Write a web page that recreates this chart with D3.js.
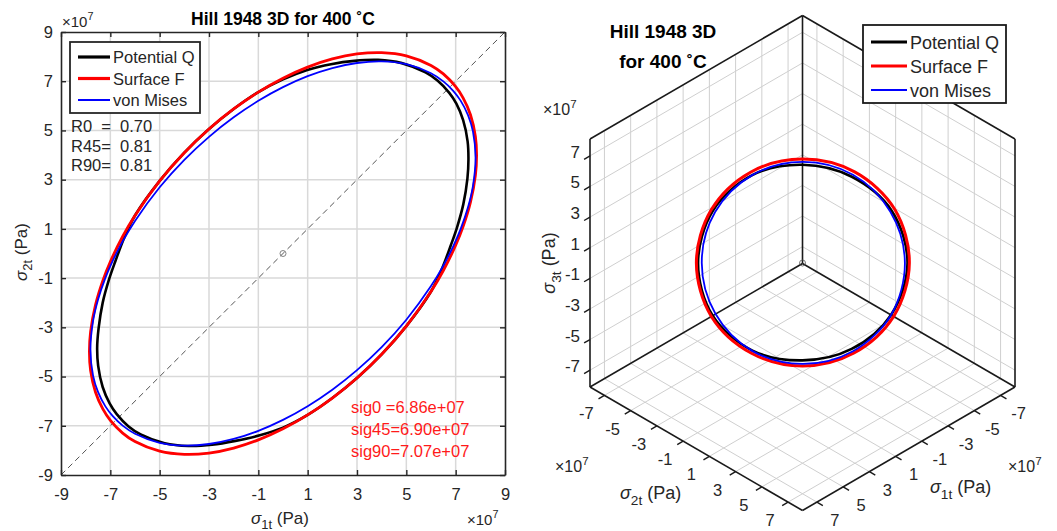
<!DOCTYPE html>
<html>
<head>
<meta charset="utf-8">
<script src="https://cdn.jsdelivr.net/npm/d3@7"></script>
<style>
  body { margin: 0; background: #fff; }
  svg { display: block; }
  text { font-family: "Liberation Sans", Arial, sans-serif; fill: #262626; }
</style>
</head>
<body>
<svg width="1057" height="531"></svg>
<script>
// ---- left panel data (values in 1e7 Pa), points read around each closed curve ----
const ticks2d = [-9, -7, -5, -3, -1, 1, 3, 5, 7, 9];
const grid2d = [-7, -5, -3, -1, 1, 3, 5, 7];

const potentialX = [-7.534, -7.493, -7.311, -7.028, -6.741, -6.261, -5.771, -4.799, -3.833, -2.875, -1.926, -0.976,
                    0, 1, 2, 3, 4, 5, 6, 6.42, 6.80, 7.053, 7.311, 7.476, 7.518, 7.484, 7.303, 7.028, 6.741, 6.261,
                    5.778, 4.815, 3.855, 2.896, 1.946, 0.984, 0, -1, -2, -3, -4, -5, -6, -6.42, -6.80, -7.053, -7.311, -7.476];
const potentialY = [-3.829, -4.564, -5.424, -6.089, -6.527, -7.027, -7.350, -7.709, -7.821, -7.771, -7.614, -7.396,
                    -7.074, -6.558, -5.873, -5.059, -4.097, -2.951, -1.544, -0.680, 0.326, 1.056, 2.006, 3.043, 3.820,
                    4.559, 5.418, 6.089, 6.527, 7.027, 7.358, 7.735, 7.866, 7.827, 7.692, 7.456, 7.074, 6.558, 5.873,
                    5.059, 4.097, 2.951, 1.544, 0.680, -0.326, -1.056, -2.006, -3.043];

const surfaceX = [-7.848, -7.8, -7.6, -7.3, -7, -6.5, -6, -5, -4, -3, -2, -1, 0, 1, 2, 3, 4, 5, 6, 6.5, 7, 7.3, 7.6, 7.8,
                  7.848, 7.8, 7.6, 7.3, 7, 6.5, 6, 5, 4, 3, 2, 1, 0, -1, -2, -3, -4, -5, -6, -6.5, -7, -7.3, -7.6, -7.8];
const surfaceY = [-3.988, -4.751, -5.638, -6.325, -6.778, -7.296, -7.641, -8.032, -8.162, -8.108, -7.905, -7.575,
                  -7.124, -6.558, -5.873, -5.059, -4.097, -2.951, -1.544, -0.690, 0.336, 1.093, 2.085, 3.175, 3.988,
                  4.751, 5.638, 6.325, 6.778, 7.296, 7.641, 8.032, 8.162, 8.108, 7.905, 7.575, 7.124, 6.558, 5.873,
                  5.059, 4.097, 2.951, 1.544, 0.690, -0.336, -1.093, -2.085, -3.175];

const misesX = [-7.806, -7.7, -7.5, -7.2, -6.9, -6.5, -6, -5, -4, -3, -2, -1, 0, 1, 2, 3, 4, 5, 6, 6.5, 6.9, 7.2, 7.5, 7.7,
                7.806, 7.7, 7.5, 7.2, 6.9, 6.5, 6, 5, 4, 3, 2, 1, 0, -1, -2, -3, -4, -5, -6, -6.5, -6.9, -7.2, -7.5, -7.7];
const misesY = [-3.903, -4.96, -5.624, -6.212, -6.611, -6.993, -7.324, -7.691, -7.805, -7.741, -7.535, -7.205,
                -6.76, -6.205, -5.535, -4.741, -3.805, -2.691, -1.324, -0.493, 0.289, 0.989, 1.876, 2.74, 3.903,
                4.96, 5.624, 6.212, 6.611, 6.993, 7.324, 7.691, 7.805, 7.741, 7.535, 7.205, 6.76, 6.205, 5.535,
                4.741, 3.805, 2.691, 1.324, 0.493, -0.289, -0.989, -1.876, -2.74];

const legendNames = ["Potential Q", "Surface F", "von Mises"];
const legendColors = ["#000000", "#ff0000", "#0000ff"];
const lineWidths = [2.6, 2.8, 1.8];

const rLabels = ["R0  =  0.70", "R45=  0.81", "R90=  0.81"];
const sigLabels = ["sig0 =6.86e+07", "sig45=6.90e+07", "sig90=7.07e+07"];

// ---- right panel data: radius (1e7 Pa) in the deviatoric plane, angle clockwise from the sigma3 axis ----
const piAngles = [0, 30, 60, 90, 120, 150, 180, 210, 240, 270, 300, 330];
const potentialR3 = [5.25, 5.32, 5.56, 5.66, 5.52, 5.30, 5.20, 5.40, 5.60, 5.63, 5.58, 5.42];
const surfaceR3 = [5.55, 5.62, 5.74, 5.76, 5.68, 5.55, 5.50, 5.55, 5.68, 5.72, 5.68, 5.60];
const misesR3 = [5.40, 5.44, 5.47, 5.52, 5.52, 5.44, 5.39, 5.42, 5.42, 5.43, 5.44, 5.42];
const ticks3d = [-7, -5, -3, -1, 1, 3, 5, 7];
const lim3 = 8.1;

const svg = d3.select("svg");
const ink = "#262626";

// ================= left panel =================
const x2 = d3.scaleLinear().domain([-9, 9]).range([61, 505]);
const y2 = d3.scaleLinear().domain([-9, 9]).range([475, 32]);
const left = svg.append("g");

left.selectAll(".vgrid").data(grid2d).join("line")
    .attr("x1", d => x2(d)).attr("x2", d => x2(d))
    .attr("y1", y2(-9)).attr("y2", y2(9))
    .attr("stroke", "#d9d9d9").attr("stroke-width", 1.5);
left.selectAll(".hgrid").data(grid2d).join("line")
    .attr("y1", d => y2(d)).attr("y2", d => y2(d))
    .attr("x1", x2(-9)).attr("x2", x2(9))
    .attr("stroke", "#d9d9d9").attr("stroke-width", 1.5);

left.append("line")
    .attr("x1", x2(-9)).attr("y1", y2(-9)).attr("x2", x2(9)).attr("y2", y2(9))
    .attr("stroke", "#555").attr("stroke-width", 1).attr("stroke-dasharray", "6,4");
left.append("circle").attr("cx", x2(0)).attr("cy", y2(0)).attr("r", 3)
    .attr("fill", "none").attr("stroke", "#666").attr("stroke-width", 0.8);

const curves2d = [[potentialX, potentialY], [surfaceX, surfaceY], [misesX, misesY]];
const line2 = d3.line().x(d => x2(d[0])).y(d => y2(d[1])).curve(d3.curveCatmullRomClosed.alpha(0.5));
curves2d.forEach(function(c, i) {
    const pts = c[0].map((v, j) => [v, c[1][j]]);
    left.append("path").attr("d", line2(pts))
        .attr("fill", "none").attr("stroke", legendColors[i]).attr("stroke-width", lineWidths[i]);
});

function styleAxis(g, size) {
    g.select(".domain").attr("stroke", ink).attr("stroke-width", 1.6);
    g.selectAll(".tick line").attr("stroke", ink).attr("stroke-width", 1.4);
    g.selectAll("text").attr("font-size", size).attr("font-family", "Liberation Sans, Arial, sans-serif").attr("fill", ink);
}
const fmt = d => String(d);
styleAxis(left.append("g").attr("transform", `translate(0,${y2(-9)})`)
    .call(d3.axisBottom(x2).tickValues(ticks2d).tickFormat(fmt).tickSize(-5).tickSizeOuter(0).tickPadding(13)), 16.5);
styleAxis(left.append("g").attr("transform", `translate(0,${y2(9)})`)
    .call(d3.axisTop(x2).tickValues(ticks2d).tickFormat("").tickSize(-5).tickSizeOuter(0)), 16.5);
styleAxis(left.append("g").attr("transform", `translate(${x2(-9)},0)`)
    .call(d3.axisLeft(y2).tickValues(ticks2d).tickFormat(fmt).tickSize(-5).tickSizeOuter(0).tickPadding(8)), 16.5);
styleAxis(left.append("g").attr("transform", `translate(${x2(9)},0)`)
    .call(d3.axisRight(y2).tickValues(ticks2d).tickFormat("").tickSize(-5).tickSizeOuter(0)), 16.5);

// title and exponent labels
left.append("text").attr("x", 283).attr("y", 25).attr("text-anchor", "middle")
    .attr("font-size", 17.5).attr("font-weight", "bold").style("fill", "#000")
    .text("Hill 1948 3D for 400 ˚C");

function expLabel(g, x, y, size) {
    const t = g.append("text").attr("x", x).attr("y", y).attr("font-size", size);
    t.append("tspan").text("×10");
    t.append("tspan").attr("font-size", size * 0.72).attr("dy", -size * 0.45).text("7");
}
expLabel(left, 62, 27, 15);
expLabel(left, 467, 525, 15);

function sigmaLabel(g, x, y, sub, size, rotate) {
    const t = g.append("text").attr("font-size", size);
    if (rotate) t.attr("transform", `translate(${x},${y}) rotate(-90)`).attr("text-anchor", "middle");
    else t.attr("x", x).attr("y", y);
    t.append("tspan").attr("font-style", "italic").text("σ");
    t.append("tspan").attr("font-size", size * 0.76).attr("dy", size * 0.32).text(sub);
    t.append("tspan").attr("dy", -size * 0.32).text(" (Pa)");
}
sigmaLabel(left, 251, 524, "1t", 17, false);
sigmaLabel(left, 27, 252, "2t", 17, true);

// legend
const leg = left.append("g");
leg.append("rect").attr("x", 70).attr("y", 42).attr("width", 130).attr("height", 71)
    .attr("fill", "#fff").attr("stroke", ink).attr("stroke-width", 1.8);
legendNames.forEach(function(n, i) {
    const yy = 57 + i * 21.5;
    leg.append("line").attr("x1", 78).attr("x2", 110).attr("y1", yy).attr("y2", yy)
        .attr("stroke", legendColors[i]).attr("stroke-width", i === 2 ? 2 : 3.2);
    leg.append("text").attr("x", 113).attr("y", yy + 6).attr("font-size", 16.5).text(n);
});

left.selectAll(".rtext").data(rLabels).join("text")
    .attr("x", 71).attr("y", (d, i) => 132 + i * 19.5)
    .attr("font-size", 16.5).style("white-space", "pre").text(d => d);
left.selectAll(".sigtext").data(sigLabels).join("text")
    .attr("x", 351).attr("y", (d, i) => 413 + i * 22)
    .attr("font-size", 16.5).style("fill", "#ff1a1a").text(d => d);

// ================= right panel (isometric 3D) =================
const s3 = d3.scaleLinear().domain([-lim3, lim3]).range([0, 1]);
const ox = 802.5, oy = 263.5, hx = 212.5, hy = 123.5, hz = 248;
function p3(a, b, c) {
    const u = s3(a), v = s3(b), w = s3(c);
    return [ox + (v - u) * hx, oy + (u + v) * hy - w * hz];
}
const right = svg.append("g");
const L = lim3;

const gridSegs = [];
ticks3d.forEach(function(t) {
    gridSegs.push([p3(t, -L, -L), p3(t, -L, L)], [p3(-L, -L, t), p3(L, -L, t)]);   // wall sigma2 = -L
    gridSegs.push([p3(-L, t, -L), p3(-L, t, L)], [p3(-L, -L, t), p3(-L, L, t)]);   // wall sigma1 = -L
    gridSegs.push([p3(t, -L, -L), p3(t, L, -L)], [p3(-L, t, -L), p3(L, t, -L)]);   // floor sigma3 = -L
});
right.selectAll(".g3").data(gridSegs).join("line")
    .attr("x1", d => d[0][0]).attr("y1", d => d[0][1]).attr("x2", d => d[1][0]).attr("y2", d => d[1][1])
    .attr("stroke", "#cfcfcf").attr("stroke-width", 1);

const edges = [
    [[-L, -L, L], [L, -L, L]], [[L, -L, L], [L, -L, -L]], [[L, -L, -L], [L, L, -L]],
    [[L, L, -L], [-L, L, -L]], [[-L, L, -L], [-L, L, L]], [[-L, L, L], [-L, -L, L]],
    [[-L, -L, -L], [-L, -L, L]], [[-L, -L, -L], [L, -L, -L]], [[-L, -L, -L], [-L, L, -L]]
];
right.selectAll(".edge").data(edges).join("line")
    .attr("x1", d => p3(...d[0])[0]).attr("y1", d => p3(...d[0])[1])
    .attr("x2", d => p3(...d[1])[0]).attr("y2", d => p3(...d[1])[1])
    .attr("stroke", "#1a1a1a").attr("stroke-width", 1.6);

// ticks
const tickSegs = [];
ticks3d.forEach(function(t) {
    tickSegs.push([p3(L, -L, t), p3(L + 0.45, -L, t)]);
    tickSegs.push([p3(L, t, -L), p3(L + 0.45, t, -L)]);
    tickSegs.push([p3(t, L, -L), p3(t, L + 0.45, -L)]);
});
right.selectAll(".tk").data(tickSegs).join("line")
    .attr("x1", d => d[0][0]).attr("y1", d => d[0][1]).attr("x2", d => d[1][0]).attr("y2", d => d[1][1])
    .attr("stroke", "#1a1a1a").attr("stroke-width", 1.4);

right.selectAll(".z3").data(ticks3d).join("text")
    .attr("x", 580).attr("y", d => p3(L, -L, d)[1] + 2)
    .attr("text-anchor", "end").attr("font-size", 17).text(fmt);
right.selectAll(".y3").data(ticks3d).join("text")
    .attr("x", d => p3(L, d, -L)[0] - 18).attr("y", d => p3(L, d, -L)[1] + 24)
    .attr("text-anchor", "middle").attr("font-size", 16.5).text(fmt);
right.selectAll(".x3").data(ticks3d).join("text")
    .attr("x", d => p3(d, L, -L)[0] + 18).attr("y", d => p3(d, L, -L)[1] + 24)
    .attr("text-anchor", "middle").attr("font-size", 16.5).text(fmt);

right.append("circle").attr("cx", p3(0, 0, 0)[0]).attr("cy", p3(0, 0, 0)[1]).attr("r", 3)
    .attr("fill", "none").attr("stroke", "#555").attr("stroke-width", 0.8);

// deviatoric-plane curves
const upV = [-1 / Math.sqrt(6), -1 / Math.sqrt(6), 2 / Math.sqrt(6)];
const rtV = [-1 / Math.SQRT2, 1 / Math.SQRT2, 0];
function piPoint(deg, r) {
    const a = deg * Math.PI / 180, c = Math.cos(a) * r, s = Math.sin(a) * r;
    return p3(c * upV[0] + s * rtV[0], c * upV[1] + s * rtV[1], c * upV[2] + s * rtV[2]);
}
const line3 = d3.line().curve(d3.curveCatmullRomClosed.alpha(0.5));
[potentialR3, surfaceR3, misesR3].forEach(function(rs, i) {
    const pts = piAngles.map((a, j) => piPoint(a, rs[j]));
    right.append("path").attr("d", line3(pts))
        .attr("fill", "none").attr("stroke", legendColors[i]).attr("stroke-width", [2.6, 3, 1.8][i]);
});

// titles / labels
right.append("text").attr("x", 663).attr("y", 38).attr("text-anchor", "middle")
    .attr("font-size", 19).attr("font-weight", "bold").style("fill", "#000").text("Hill 1948 3D");
right.append("text").attr("x", 663).attr("y", 68).attr("text-anchor", "middle")
    .attr("font-size", 19).attr("font-weight", "bold").style("fill", "#000").text("for 400 ˚C");

expLabel(right, 543, 115, 16);
expLabel(right, 555, 472, 16);
expLabel(right, 1008, 472, 16);
sigmaLabel(right, 555, 263, "3t", 18, true);
sigmaLabel(right, 620, 499, "2t", 18, false);
sigmaLabel(right, 930, 493, "1t", 18, false);

const leg3 = right.append("g");
leg3.append("rect").attr("x", 863).attr("y", 25).attr("width", 143).attr("height", 78)
    .attr("fill", "#fff").attr("stroke", "#1a1a1a").attr("stroke-width", 1.8);
legendNames.forEach(function(n, i) {
    const yy = 42 + i * 24;
    leg3.append("line").attr("x1", 871).attr("x2", 907).attr("y1", yy).attr("y2", yy)
        .attr("stroke", legendColors[i]).attr("stroke-width", i === 2 ? 2 : 3.2);
    leg3.append("text").attr("x", 910).attr("y", yy + 6.5).attr("font-size", 18).text(n);
});
</script>
</body>
</html>
